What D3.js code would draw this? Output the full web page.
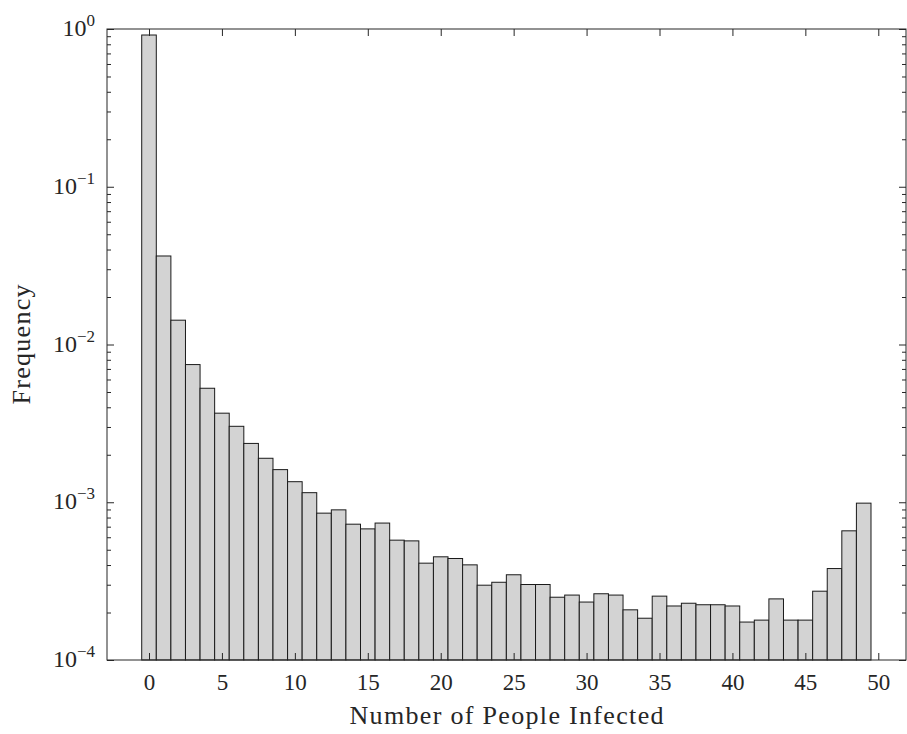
<!DOCTYPE html>
<html>
<head>
<meta charset="utf-8">
<script src="https://cdn.jsdelivr.net/npm/d3@7"></script>
<style>
  body { margin: 0; background: #fff; }
  svg text { font-family: "Liberation Serif", "DejaVu Serif", serif; fill: #262626; }
</style>
</head>
<body>
<div id="chart"></div>
<script>
// histogram bins (number of people infected) and their relative frequency
const bins = d3.range(0, 50)
const freq = [
  0.916, 0.0364, 0.01426, 0.00746, 0.00528, 0.00367, 0.00303, 0.00236, 0.00190, 0.00161,
  0.00135, 0.00115, 0.000853, 0.000895, 0.000726, 0.000678, 0.000738, 0.000575, 0.000569, 0.000411,
  0.000451, 0.000440, 0.000401, 0.000298, 0.000311, 0.000347, 0.000301, 0.000301, 0.000250, 0.000258,
  0.000233, 0.000263, 0.000258, 0.000208, 0.000184, 0.000254, 0.000220, 0.000229, 0.000224, 0.000224,
  0.000220, 0.000174, 0.000179, 0.000244, 0.000179, 0.000179, 0.000273, 0.000380, 0.000659, 0.000987
]
const xTicks = [0, 5, 10, 15, 20, 25, 30, 35, 40, 45, 50]
const yExponents = [0, -1, -2, -3, -4]

const W = 907, H = 734
const margin = {top: 29, right: 1, bottom: 74, left: 107}
const width = W - margin.left - margin.right
const height = H - margin.top - margin.bottom

const svg = d3.select("#chart").append("svg")
  .attr("width", W)
  .attr("height", H)
const g = svg.append("g")
  .attr("transform", "translate(" + margin.left + "," + margin.top + ")")

const x = d3.scaleLinear().domain([-2.88, 51.9]).range([0, width])
const y = d3.scaleLog().domain([1e-4, 1]).range([height, 0])

// bars
g.selectAll("rect.bar")
  .data(bins)
  .enter()
  .append("rect")
  .attr("class", "bar")
  .attr("x", d => x(d - 0.5))
  .attr("width", d => x(d + 0.5) - x(d - 0.5))
  .attr("y", d => y(freq[d]))
  .attr("height", d => y(1e-4) - y(freq[d]))
  .attr("fill", "#d3d3d3")
  .attr("stroke", "#1a1a1a")
  .attr("stroke-width", 1)

// minor log ticks
const minor = []
yExponents.slice(0, -1).forEach(e => {
  for (let k = 2; k <= 9; k++) minor.push(k * Math.pow(10, e - 1))
})
const majors = yExponents.map(e => Math.pow(10, e))

function styleAxis(sel) {
  sel.select(".domain").remove()
  sel.selectAll("line").attr("stroke", "#262626").attr("stroke-width", 1)
}

// x axes (bottom with labels, top without)
g.append("g")
  .attr("transform", "translate(0," + height + ")")
  .call(d3.axisBottom(x).tickValues(xTicks).tickSize(-7).tickPadding(14).tickFormat(d3.format("d")))
  .call(styleAxis)
  .selectAll("text").style("font-size", "23px").attr("fill", "#262626")
g.append("g")
  .call(d3.axisTop(x).tickValues(xTicks).tickSize(-7).tickFormat(""))
  .call(styleAxis)

// y axes: majors, minors, left and right
g.append("g")
  .call(d3.axisLeft(y).tickValues(majors).tickSize(-7).tickFormat(""))
  .call(styleAxis)
g.append("g")
  .call(d3.axisLeft(y).tickValues(minor).tickSize(-4).tickFormat(""))
  .call(styleAxis)
g.append("g")
  .attr("transform", "translate(" + width + ",0)")
  .call(d3.axisRight(y).tickValues(majors).tickSize(-7).tickFormat(""))
  .call(styleAxis)
g.append("g")
  .attr("transform", "translate(" + width + ",0)")
  .call(d3.axisRight(y).tickValues(minor).tickSize(-4).tickFormat(""))
  .call(styleAxis)

// y tick labels as 10^e
const ylab = g.append("g")
yExponents.forEach(e => {
  const t = ylab.append("text")
    .attr("x", -12)
    .attr("y", y(Math.pow(10, e)) + 7)
    .attr("text-anchor", "end")
  t.append("tspan").style("font-size", "24px").text("10")
  t.append("tspan").style("font-size", "17px").attr("dy", -10)
    .text(e < 0 ? "\u2212" + (-e) : String(e))
})

// frame
g.append("rect")
  .attr("width", width)
  .attr("height", height)
  .attr("fill", "none")
  .attr("stroke", "#262626")
  .attr("stroke-width", 1)

// axis titles
svg.append("text")
  .attr("x", margin.left + width / 2)
  .attr("y", 724)
  .attr("text-anchor", "middle")
  .attr("textLength", 314)
  .attr("lengthAdjust", "spacing")
  .style("font-size", "26px")
  .text("Number of People Infected")
svg.append("text")
  .attr("transform", "translate(30," + (margin.top + height / 2) + ") rotate(-90)")
  .attr("text-anchor", "middle")
  .attr("textLength", 120)
  .attr("lengthAdjust", "spacing")
  .style("font-size", "26px")
  .text("Frequency")
</script>
</body>
</html>
